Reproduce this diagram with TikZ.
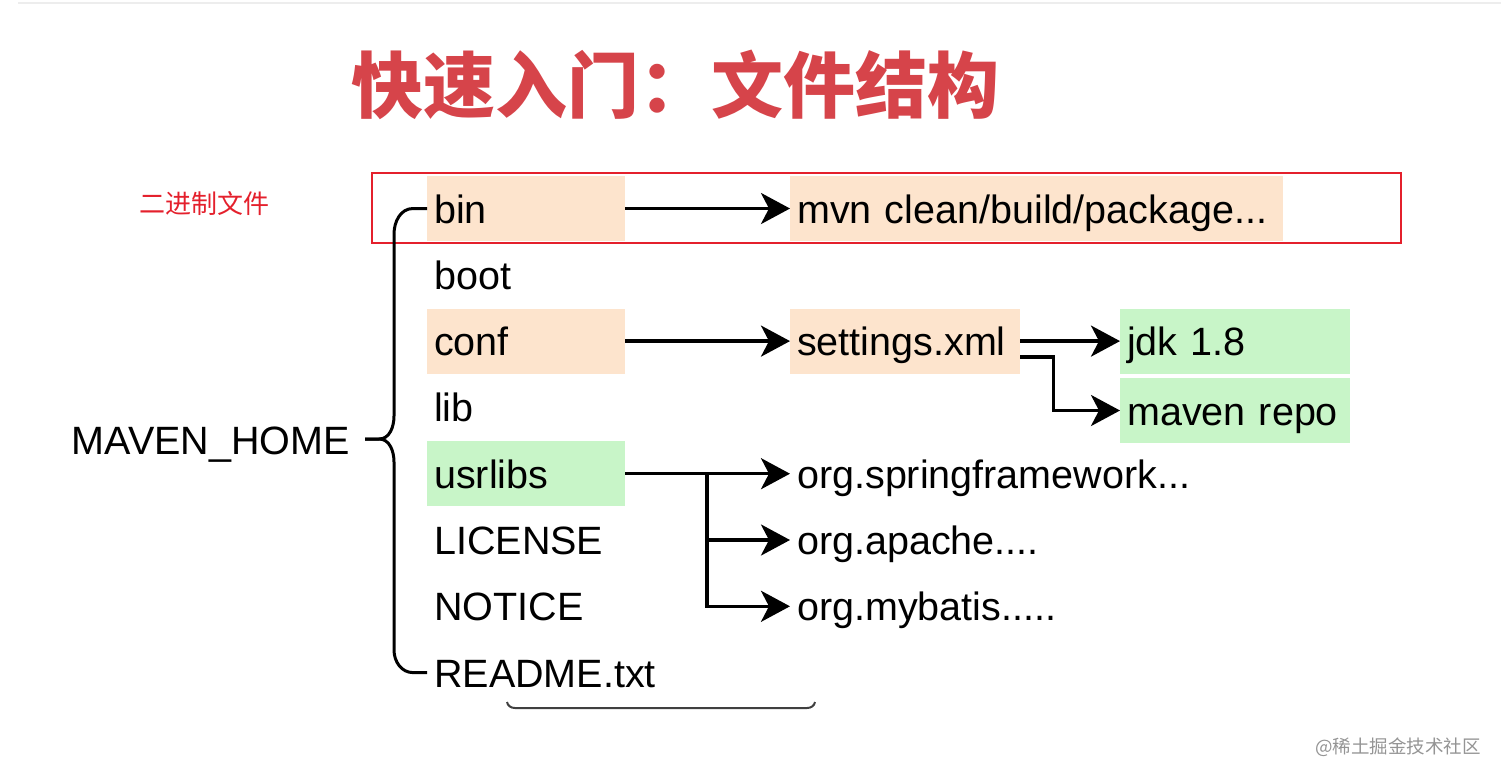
\documentclass[tikz,border=0pt]{standalone}
\usepackage{fontspec}
\setmainfont{Liberation Sans}
\newfontfamily\cjk{Noto Sans CJK SC}
\usetikzlibrary{arrows.meta}

\definecolor{peach}{RGB}{253,228,205}
\definecolor{mint}{RGB}{200,245,200}
\definecolor{framered}{RGB}{228,32,44}
\definecolor{titlered}{RGB}{214,68,74}

\tikzset{
  entry/.style={anchor=west, inner xsep=7pt, inner ysep=0pt, minimum height=65pt,
    text height=33pt, text depth=4pt, font=\fontsize{39.5}{39.5}\selectfont},
  peachbox/.style={entry, fill=peach},
  mintbox/.style={entry, fill=mint},
  arrowline/.style={line width=3.5pt, -{Stealth[length=29pt,width=31pt,inset=8pt]}},
  braceline/.style={line width=3pt},
}

\begin{document}
\begin{tikzpicture}[x=1pt,y=-1pt]
    \useasboundingbox (0,0) rectangle (1501,780);
    \draw [black!7, line width=2.5pt] (18,3) -- (1501,3);
    \node (title) [text=titlered, font=\cjk\bfseries\fontsize{72}{72}\selectfont] at (675,85) {快速入门：文件结构};
    \node (binnote) [text=framered, font=\cjk\fontsize{26}{26}\selectfont] at (204,204) {二进制文件};
    \draw [framered, line width=2.5pt] (372,173) rectangle (1401,243);
    % first column
    \node (bin) [peachbox, text width=184pt] at (427,208.5) {bin};
    \node (boot) [entry, text width=184pt] at (427,274.8) {boot};
    \node (conf) [peachbox, text width=184pt] at (427,341.1) {conf};
    \node (lib) [entry, text width=184pt] at (427,407.4) {lib};
    \node (usrlibs) [mintbox, text width=184pt] at (427,473.7) {usrlibs};
    \node (license) [entry, text width=184pt] at (427,540) {LICENSE};
    \node (notice) [entry, text width=184pt] at (427,606.3) {NOTICE};
    \node (readme) [entry, text width=184pt] at (427,672.6) {README.txt};
    \node (home) [anchor=east, inner sep=0pt, font=\fontsize{39.5}{39.5}\selectfont] at (350,445) {MAVEN\_HOME};
    % second column
    \node (mvn) [peachbox, text width=479pt] at (790,208.5) {mvn clean/build/package...};
    \node (settings) [peachbox, text width=216pt] at (790,341.1) {settings.xml};
    \node (spring) [entry, text width=400pt] at (790,473.7) {org.springframework...};
    \node (apache) [entry, text width=400pt] at (790,540) {org.apache....};
    \node (mybatis) [entry, text width=400pt] at (790,606.3) {org.mybatis.....};
    % third column
    \node (jdk) [mintbox, text width=216pt] at (1120,341.1) {jdk 1.8};
    \node (repo) [mintbox, text width=216pt] at (1120,410.5) {maven repo};
    % brace
    \coordinate (tip) at (365,439);
    \draw [braceline] (bin.west) -- ++(-14,0) to[out=180,in=90] (394,234) -- (394,416)
        to[out=-90,in=0] (379,439) -- (tip);
    \draw [braceline] (tip) -- (379,439) to[out=0,in=90] (394,462) -- (394,650)
        to[out=-90,in=180] (413,672.6) -- (readme.west);
    \draw [black!75, line width=2pt] (507,702) to[out=-80,in=180] (515,708) -- (807,708)
        to[out=0,in=-100] (815,702);
    % arrows
    \draw [arrowline] (bin.east) -- (mvn.west);
    \draw [arrowline] (conf.east) -- (settings.west);
    \draw [arrowline] (settings.east) -- (jdk.west);
    \draw [arrowline] ([yshift=-16pt]settings.east) -- ++(33,0) |- (repo.west);
    \coordinate (fork) at (707,473.7);
    \draw [arrowline] (usrlibs.east) -- (spring.west);
    \draw [arrowline] (fork) |- (apache.west);
    \draw [arrowline] (fork) |- (mybatis.west);
    \node (mark) [text=black!42, font=\cjk\fontsize{18.5}{18.5}\selectfont] at (1398,747) {@稀土掘金技术社区};
\end{tikzpicture}
\end{document}
